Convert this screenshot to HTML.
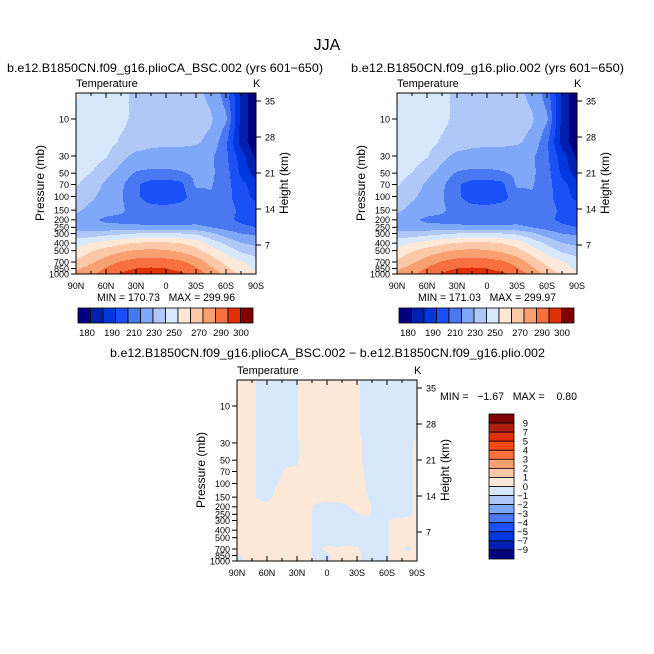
<!DOCTYPE html>
<html><head><meta charset="utf-8">
<style>
html,body{margin:0;padding:0;background:#fff;}
#wrap{position:relative;width:654px;height:654px;overflow:hidden;background:#fff;}
canvas{position:absolute;image-rendering:pixelated;}
svg{position:absolute;left:0;top:0;}
text{font-family:"Liberation Sans",sans-serif;fill:#000;white-space:pre;}
</style></head>
<body>
<div id="wrap">
<canvas id="c1" width="180" height="181" style="left:76px;top:93px;width:180px;height:181px"></canvas>
<canvas id="c2" width="180" height="181" style="left:397px;top:93px;width:180px;height:181px"></canvas>
<canvas id="c3" width="180" height="181" style="left:237px;top:380px;width:180px;height:181px"></canvas>
<svg id="svg" width="654" height="654"></svg>
</div>
<script>
// ---------- data ----------
const lats = [90,75,60,45,30,15,0,-15,-30,-45,-60,-75,-90];
const pres = [4.62,10,20,30,50,70,100,150,200,250,300,400,500,700,850,1000];
const tempCase1 = [
[252,245,245,242,238,235,236,235,232,228,215,188,172],
[245,245,244,242,238,236,235,234,233,231,222,187,172],
[245,245,243,239,236,233,232,232,231,228,212,186,172],
[245,245,241,233,227,226,226,226,226,222,212,195,178],
[243,240,233,226,219,218,218,219,222,222,214,198,185],
[241,236,228,222,212,205,204,207,222,221,214,203,195],
[238,232,226,221,212,205,205,207,214,219,213,205,197],
[232,227,224,222,215,214,213,214,216,216,214,208,205],
[226,222,218,217,217,216,216,216,217,215,212,208,206],
[225,224,223,223,222,222,222,222,222,220,216,212,210],
[233,234,236,238,240,241,241,240,238,232,225,220,218],
[246,250,254,258,261,262,262,260,256,246,238,230,228],
[253,259,264,268,271,272,271,268,263,255,246,238,233],
[262,268,275,281,284,285,284,282,276,266,257,251,246],
[268,274,281,287,290,291,290,287,281,272,262,254,248],
[272,278,285,291,295,296,294,292,286,277,266,258,252]];
const tempCase2 = tempCase1.map(r => r.slice());
const levelsT = [180,190,200,210,220,230,240,250,260,270,280,290,300];
const colorsT = ["#000080","#0020b0","#0038e0","#1a50f5","#4a78f0","#80a8f8","#b0c8f8","#d8e8fc","#fee8d8","#fcc8a8","#f8a070","#f87040","#e03008","#800000"];
const cbLabelsT = ["180","190","210","230","250","270","290","300"];
const latsD = [90,80,70,60,50,40,30,20,10,0,-10,-20,-30,-40,-50,-60,-70,-80,-90];
const diffVals = [
[.5,.5,-.05,-.5,-.5,-.5,-.05,.5,.5,.5,.5,.5,.2,-.5,-.5,-.5,-.5,-.5,-.5],
[.5,.5,-.05,-.5,-.5,-.5,-.05,.5,.5,.5,.5,.5,.2,-.5,-.5,-.5,-.5,-.5,-.5],
[.5,.5,-.05,-.5,-.5,-.5,-.05,.5,.5,.5,.5,.5,.2,-.5,-.5,-.5,-.5,-.5,-.5],
[.5,.5,-.05,-.5,-.5,-.5,-.1,.5,.5,.5,.5,.5,.3,-.3,-.5,-.5,-.5,-.4,.3],
[.5,.5,-.05,-.5,-.5,-.3,-.1,.5,.5,.5,.5,.5,.3,-.3,-.5,-.5,-.5,-.4,.3],
[.5,.5,-.05,-.5,-.3,.2,.1,.5,.5,.5,.5,.5,.4,-.2,-.5,-.5,-.5,-.4,.3],
[.5,.5,-.05,-.5,-.05,.4,.5,.5,.5,.5,.5,.5,.4,-.1,-.5,-.5,-.5,-.4,.3],
[.5,.5,-.05,-.3,.3,.5,.5,.5,.5,.5,.5,.5,.4,.05,-.5,-.5,-.5,-.4,.3],
[.5,.5,.3,.3,.5,.5,.5,.5,-.3,-.5,-.5,-.1,.4,.3,-.3,-.5,-.5,-.4,.3],
[.5,.5,.5,.5,.5,.5,.5,.4,-.4,-.5,-.5,-.5,-.1,.2,-.5,-.5,-.5,-.4,.3],
[.5,.5,.5,.5,.5,.5,.5,.4,-.4,-.5,-.5,-.5,-.5,-.5,-.5,-.1,.4,.4,.4],
[.5,.5,.5,.5,.5,.5,.5,.4,-.4,-.5,-.5,-.5,-.5,-.5,-.5,-.1,.4,.4,.4],
[.5,.5,.5,.5,.5,.5,.5,.3,-.3,-.5,-.5,-.5,-.5,-.5,-.5,-.1,.4,.4,.4],
[.5,.5,.5,.5,.5,.5,.5,.3,-.3,.2,.1,.2,.1,-.3,-.5,-.1,.4,-.2,.4],
[-.2,.3,.5,.5,.5,.5,.5,.3,-.3,-.2,.3,.3,.2,-.3,-.5,-.1,.4,.3,.4],
[-.3,.1,.5,.5,.5,.5,.5,.5,-.2,-.2,.4,.4,.3,-.3,-.5,-.1,.4,.4,.4]];
const levelsD = [-9,-7,-5,-4,-3,-2,-1,0,1,2,3,4,5,7,9];
const colorsD = ["#000080","#0020b0","#0038e0","#1a50f5","#4a78f0","#80a8f8","#b0c8f8","#d8e8fc","#fee8d8","#fcc8a8","#f8a070","#f87040","#f84818","#e03008","#b02010","#800000"];
const cbLabelsD = ["-9","-7","-5","-4","-3","-2","-1","0","1","2","3","4","5","7","9"];
const pTicks = [10,30,50,70,100,150,200,250,300,400,500,700,850,1000];
const kmTicks = [35,28,21,14,7];
const xTickLats = [90,60,30,0,-30,-60,-90];
const xTickLabels = ["90N","60N","30N","0","30S","60S","90S"];

// ---------- axes ----------
const PW = 180, PH = 181, PTOP = 4.62;
const LGR = Math.log10(1000/PTOP);
function yOfP(p, top){ return top + PH - PH*Math.log10(1000/p)/LGR; }
function xOfLat(lat, left){ return left + (90-lat)/180*PW; }
function yOfKm(km, top){ return top + 8 + (35-km)/7*36; }

function hex(c){ return [parseInt(c.substr(1,2),16),parseInt(c.substr(3,2),16),parseInt(c.substr(5,2),16)]; }

function renderField(id, la, grid, levels, colors){
  const cv = document.getElementById(id), ctx = cv.getContext('2d');
  const img = ctx.createImageData(PW, PH);
  const rowY = pres.map(p => yOfP(p, 0));
  const rgb = colors.map(hex);
  for (let py=0; py<PH; py++){
    const yy = py+0.5;
    let j=0; while (j<rowY.length-2 && yy>rowY[j+1]) j++;
    let fy = (yy-rowY[j])/(rowY[j+1]-rowY[j]); fy=Math.max(0,Math.min(1,fy));
    for (let px=0; px<PW; px++){
      const lat = 90 - (px+0.5)/PW*180;
      let i=0; while (i<la.length-2 && lat<la[i+1]) i++;
      let fx = (la[i]-lat)/(la[i]-la[i+1]); fx=Math.max(0,Math.min(1,fx));
      const v = (grid[j][i]*(1-fx)+grid[j][i+1]*fx)*(1-fy) + (grid[j+1][i]*(1-fx)+grid[j+1][i+1]*fx)*fy;
      let k=0; while (k<levels.length && v>=levels[k]) k++;
      const c = rgb[k], o=(py*PW+px)*4;
      img.data[o]=c[0]; img.data[o+1]=c[1]; img.data[o+2]=c[2]; img.data[o+3]=255;
    }
  }
  ctx.putImageData(img,0,0);
}
renderField('c1', lats, tempCase1, levelsT, colorsT);
renderField('c2', lats, tempCase2, levelsT, colorsT);
renderField('c3', latsD, diffVals, levelsD, colorsD);

// ---------- svg ----------
const NS = "http://www.w3.org/2000/svg";
const svg = document.getElementById('svg');
function mk(tag, attrs, parent){
  const e = document.createElementNS(NS, tag);
  for (const k in attrs) e.setAttribute(k, attrs[k]);
  (parent||svg).appendChild(e); return e;
}
function txt(s, x, y, size, anchor, name, extra){
  const t = mk('text', Object.assign({x:x, y:y, 'font-size':size, 'text-anchor':anchor||'start'}, extra||{}));
  t.textContent = s;
  
  
  return t;
}
txt("JJA", 327, 50, 16, 'middle', 'figure-title', {fill:'#333'});

function panel(left, top, prefix, subtitle, subX, subLen, minmax, mmX, mmY, mmLen){
  const g = mk('g', {});
  
  
  mk('rect', {x:left, y:top, width:PW, height:PH, fill:'none', stroke:'#000', 'stroke-width':1}, g);
  if (subtitle){
    txt(subtitle, subX, top-21, 12, 'start', prefix+'-subtitle', {textLength:subLen, lengthAdjust:'spacingAndGlyphs'});
  }
  txt("Temperature", left, top-6, 11, 'start', prefix+'-variable-label');
  txt("K", left+PW-3, top-6, 11, 'start', prefix+'-units-label');
  pTicks.forEach(p => {
    const y = yOfP(p, top);
    const l = mk('line', {x1:left-5, x2:left, y1:y, y2:y, stroke:'#000'}, g);
    
    txt(String(p), left-7, y+3.3, 9, 'end', 'pressure-tick-label');
  });
  kmTicks.forEach(km => {
    const y = yOfKm(km, top);
    const l = mk('line', {x1:left+PW, x2:left+PW+5, y1:y, y2:y, stroke:'#000'}, g);
    
    txt(String(km), left+PW+9, y+3.3, 9, 'start', 'height-tick-label');
  });
  for (let lat=90; lat>=-90; lat-=15){
    const x = xOfLat(lat, left), len = (lat%30===0)?5:3;
    const a = mk('line', {x1:x, x2:x, y1:top+PH, y2:top+PH-len, stroke:'#000'}, g);
    
    const b = mk('line', {x1:x, x2:x, y1:top, y2:top+len, stroke:'#000'}, g);
    
  }
  xTickLats.forEach((lat,i) => {
    txt(xTickLabels[i], xOfLat(lat,left), top+PH+15, 9, 'middle', 'lat-tick-label');
  });
  txt("Pressure (mb)", 0, 0, 12, 'middle', prefix+'-y-axis-title', {transform:`translate(${left-32},${top+90}) rotate(-90)`});
  txt("Height (km)", 0, 0, 12, 'middle', prefix+'-y2-axis-title', {transform:`translate(${left+PW+32},${top+90}) rotate(-90)`});
  if (minmax) txt(minmax, mmX, mmY, 11, 'start', prefix+'-min-max', {textLength:mmLen, lengthAdjust:'spacingAndGlyphs'});
}
panel(76, 93, 'left', "b.e12.B1850CN.f09_g16.plioCA_BSC.002 (yrs 601\u2212650)", 7, 316, "MIN = 170.73   MAX = 299.96", 97, 301, 138);
panel(397, 93, 'right', "b.e12.B1850CN.f09_g16.plio.002 (yrs 601\u2212650)", 351, 273, "MIN = 171.03   MAX = 299.97", 418, 301, 138);
panel(237, 380, 'diff', null, 0, 0, "MIN =   \u22121.67   MAX =    0.80", 440, 400, 137);
txt("b.e12.B1850CN.f09_g16.plioCA_BSC.002 \u2212 b.e12.B1850CN.f09_g16.plio.002", 110, 357, 12, 'start', 'difference-title', {textLength:435, lengthAdjust:'spacingAndGlyphs'});

function hbar(x0, prefix){
  const w = 175/colorsT.length;
  colorsT.forEach((c,i) => {
    const r = mk('rect', {x:x0+i*w, y:308, width:w, height:15, fill:c, stroke:'#000', 'stroke-width':0.8});
    
    
  });
  const pos = [87,112,134,154,174,199,221,241];
  cbLabelsT.forEach((s,i) => txt(s, x0-78+pos[i], 336, 9.5, 'middle', prefix+'-colorbar-label'));
}
hbar(78, 'left');
hbar(399, 'right');
(function(){
  const h = 145/colorsD.length;
  for (let i=0;i<colorsD.length;i++){
    const c = colorsD[colorsD.length-1-i];
    const r = mk('rect', {x:489, y:414+i*h, width:25, height:h, fill:c, stroke:'#000', 'stroke-width':0.8});
    
    
  }
  for (let i=0;i<cbLabelsD.length;i++){
    const s = cbLabelsD[cbLabelsD.length-1-i].replace('-', '\u2212');
    txt(s, 528, 414+(i+1)*h+3.3, 9.5, 'end', 'diff-colorbar-label');
  }
})();
</script>
</body></html>
